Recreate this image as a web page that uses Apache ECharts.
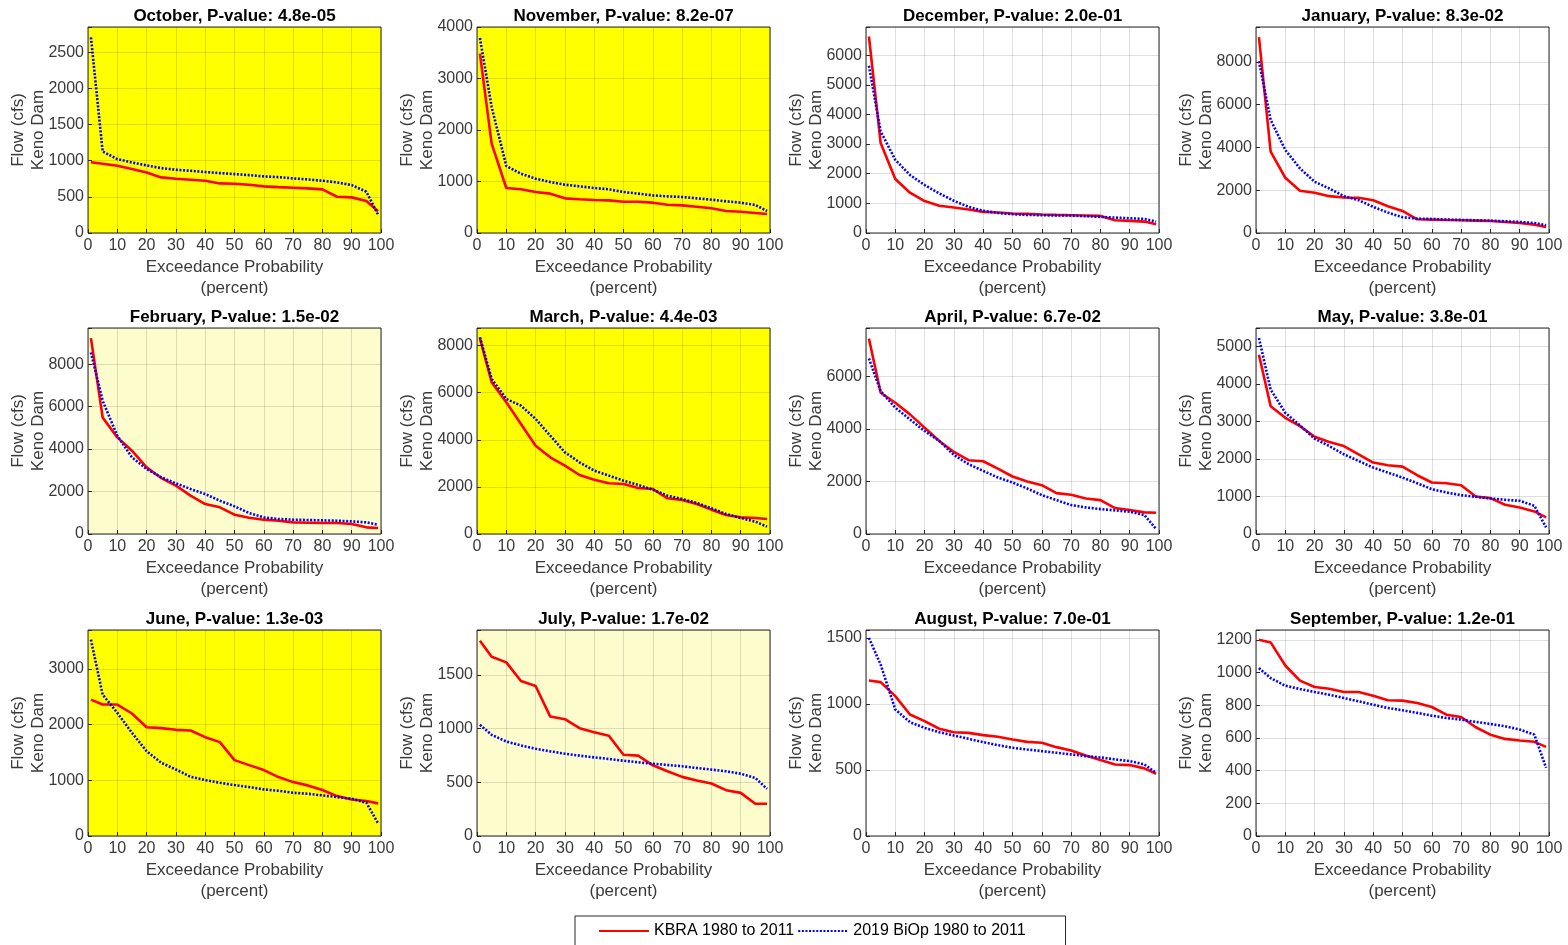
<!DOCTYPE html>
<html>
<head>
<meta charset="utf-8">
<title>Keno Dam flow exceedance by month</title>
<script src="https://cdn.jsdelivr.net/npm/echarts@6/dist/echarts.min.js"></script>
<style>
  html, body { margin: 0; padding: 0; background: #fff; }
  #chart { width: 1568px; height: 945px; }
</style>
</head>
<body>
<div id="chart"></div>
<script>
// exceedance probability (percent), same for every month
const probability = [1, 5, 10, 15, 20, 25, 30, 35, 40, 45, 50, 55, 60, 65, 70, 75, 80, 85, 90, 95, 99];

const months = ['October', 'November', 'December', 'January', 'February', 'March',
  'April', 'May', 'June', 'July', 'August', 'September'];
const pValues = ['4.8e-05', '8.2e-07', '2.0e-01', '8.3e-02', '1.5e-02', '4.4e-03',
  '6.7e-02', '3.8e-01', '1.3e-03', '1.7e-02', '7.0e-01', '1.2e-01'];

// y axis top and tick step per month
const yMax = [2850, 4000, 6950, 9630, 9700, 8750, 7830, 5490, 3700, 1920, 1560, 1260];
const yStep = [500, 1000, 1000, 2000, 2000, 2000, 2000, 1000, 1000, 500, 500, 200];

// flow (cfs) - KBRA 1980 to 2011
const kbraOct = [980, 958, 930, 884, 838, 769, 750, 737, 723, 686, 681, 668, 645, 635, 626, 617, 603, 502, 493, 442, 300];
const kbraNov = [3482, 1735, 874, 848, 796, 764, 673, 654, 641, 634, 608, 608, 589, 550, 537, 511, 479, 427, 414, 388, 369];
const kbraDec = [6630, 3035, 1820, 1359, 1076, 917, 860, 792, 713, 690, 657, 645, 623, 611, 600, 589, 577, 430, 408, 385, 294];
const kbraJan = [9158, 3804, 2583, 1972, 1879, 1722, 1659, 1644, 1534, 1252, 1033, 642, 626, 611, 595, 579, 564, 517, 470, 391, 282];
const kbraFeb = [9224, 5490, 4549, 3922, 3137, 2635, 2275, 1804, 1412, 1255, 910, 769, 675, 627, 549, 533, 518, 518, 471, 314, 282];
const kbraMar = [8312, 6444, 5594, 4674, 3752, 3257, 2903, 2507, 2308, 2153, 2124, 1954, 1912, 1516, 1445, 1275, 1034, 807, 708, 680, 637];
const kbraApr = [7427, 5368, 4989, 4547, 4042, 3537, 3120, 2804, 2766, 2488, 2185, 1996, 1857, 1554, 1491, 1352, 1288, 985, 909, 821, 808];
const kbraMay = [4779, 3407, 3097, 2876, 2593, 2451, 2345, 2124, 1903, 1832, 1796, 1566, 1372, 1354, 1301, 1000, 956, 779, 708, 602, 442];
const kbraJun = [2450, 2361, 2361, 2200, 1954, 1937, 1907, 1895, 1775, 1686, 1363, 1273, 1184, 1058, 968, 909, 825, 717, 657, 628, 586];
const kbraJul = [1819, 1670, 1618, 1444, 1398, 1113, 1089, 1005, 968, 934, 758, 749, 659, 603, 551, 517, 489, 427, 402, 300, 300];
const kbraAug = [1177, 1165, 1059, 920, 870, 812, 786, 781, 764, 751, 731, 713, 706, 673, 648, 610, 575, 542, 537, 512, 471];
const kbraSep = [1200, 1184, 1043, 950, 911, 901, 881, 881, 858, 830, 828, 814, 789, 742, 728, 665, 620, 594, 584, 576, 545];

// flow (cfs) - 2019 BiOp 1980 to 2011
const biopOct = [2707, 1128, 1022, 976, 935, 898, 875, 861, 843, 829, 815, 801, 783, 773, 755, 741, 723, 700, 663, 571, 253];
const biopNov = [3786, 2450, 1300, 1152, 1055, 990, 938, 906, 874, 848, 796, 764, 731, 712, 699, 673, 647, 615, 589, 544, 427];
const biopDec = [5640, 3430, 2468, 1958, 1619, 1336, 1087, 883, 747, 679, 634, 611, 600, 589, 589, 566, 543, 521, 498, 475, 385];
const biopJan = [8031, 5291, 3882, 3021, 2395, 2082, 1722, 1534, 1221, 955, 736, 673, 657, 626, 611, 595, 579, 548, 517, 470, 360];
const biopFeb = [8549, 6275, 4627, 3608, 3059, 2667, 2384, 2118, 1882, 1569, 1302, 988, 784, 706, 675, 659, 643, 627, 596, 549, 439];
const biopMar = [8357, 6586, 5736, 5453, 4887, 4178, 3470, 3045, 2691, 2479, 2266, 2082, 1884, 1629, 1487, 1317, 1091, 850, 680, 524, 312];
const biopApr = [6669, 5432, 4800, 4358, 3916, 3537, 3006, 2653, 2400, 2147, 1958, 1731, 1478, 1288, 1099, 1011, 947, 897, 846, 720, 189];
const biopMay = [5221, 3850, 3230, 2894, 2540, 2345, 2124, 1947, 1770, 1637, 1504, 1354, 1195, 1106, 1035, 991, 947, 912, 885, 752, 177];
const biopJun = [3527, 2540, 2212, 1853, 1524, 1315, 1195, 1064, 1004, 956, 915, 879, 837, 813, 777, 759, 729, 699, 669, 598, 227];
const biopJul = [1036, 943, 881, 844, 813, 789, 767, 749, 733, 718, 702, 687, 674, 662, 650, 634, 619, 603, 581, 541, 439];
const biopAug = [1500, 1298, 958, 862, 819, 786, 761, 736, 711, 688, 668, 655, 643, 630, 618, 605, 595, 580, 567, 542, 479];
const biopSep = [1027, 966, 919, 899, 881, 864, 844, 824, 803, 783, 769, 753, 736, 722, 712, 698, 685, 671, 651, 620, 417];

const kbraAll = [kbraOct, kbraNov, kbraDec, kbraJan, kbraFeb, kbraMar, kbraApr, kbraMay, kbraJun, kbraJul, kbraAug, kbraSep];
const biopAll = [biopOct, biopNov, biopDec, biopJan, biopFeb, biopMar, biopApr, biopMay, biopJun, biopJul, biopAug, biopSep];

const kbraName = 'KBRA 1980 to 2011';
const biopName = '2019 BiOp 1980 to 2011';

// panel layout
const colLeft = [88, 477, 866, 1256];
const rowTop = [27, 328, 630];
const plotW = 293;
const plotH = 206;

const fontFamily = '"Liberation Sans", Arial, Helvetica, sans-serif';
const axisColor = '#262626';
const labelColor = '#3a3a3a';
const gridLineColor = 'rgba(38,38,38,0.15)';

function toPoints(values) {
  return probability.map((p, k) => [p, values[k]]);
}

const grids = [];
const titles = [];
const xAxes = [];
const yAxes = [];
const series = [];

months.forEach((month, i) => {
  const left = colLeft[i % 4];
  const top = rowTop[Math.floor(i / 4)];
  const p = parseFloat(pValues[i]);
  // significance shading: p < 0.01 bright yellow, p < 0.05 pale yellow
  const bg = p < 0.01 ? '#ffff00' : (p < 0.05 ? '#fcfccc' : '#ffffff');
  const step = yStep[i];

  grids.push({
    left: left, top: top, width: plotW, height: plotH,
    show: true, backgroundColor: bg,
    borderColor: axisColor, borderWidth: 1,
    containLabel: false, outerBoundsMode: 'none'
  });

  titles.push({
    text: month + ', P-value: ' + pValues[i],
    left: left + plotW / 2,
    top: top - 20,
    textAlign: 'center',
    padding: 0,
    textStyle: { fontFamily: fontFamily, fontSize: 17, fontWeight: 'bold', color: '#000', lineHeight: 18 }
  });

  xAxes.push({
    gridIndex: i, type: 'value', min: 0, max: 100, interval: 10,
    name: 'Exceedance Probability\n(percent)',
    nameLocation: 'middle', nameGap: 24,
    nameTextStyle: { fontFamily: fontFamily, fontSize: 17, color: labelColor, lineHeight: 21 },
    axisLine: { show: false },
    axisTick: { show: true, inside: true, length: 4, lineStyle: { color: axisColor } },
    axisLabel: { fontFamily: fontFamily, fontSize: 16, color: labelColor, margin: 5 },
    splitLine: { show: true, lineStyle: { color: gridLineColor, width: 1 } }
  });

  yAxes.push({
    gridIndex: i, type: 'value', min: 0, max: yMax[i], interval: step,
    name: 'Flow (cfs)\nKeno Dam',
    nameLocation: 'middle', nameRotate: 90, nameGap: 40,
    nameMoveOverlap: false,
    nameTextStyle: { fontFamily: fontFamily, fontSize: 17, color: labelColor, lineHeight: 20 },
    axisLine: { show: false },
    axisTick: { show: true, inside: true, length: 4, lineStyle: { color: axisColor } },
    axisLabel: {
      fontFamily: fontFamily, fontSize: 16, color: labelColor, margin: 4,
      formatter: function (v) { return v % step === 0 ? String(v) : ''; }
    },
    splitLine: { show: true, lineStyle: { color: gridLineColor, width: 1 } }
  });

  series.push({
    name: kbraName, type: 'line', xAxisIndex: i, yAxisIndex: i,
    data: toPoints(kbraAll[i]),
    symbol: 'none', showSymbol: false,
    itemStyle: { color: '#ff0000' },
    lineStyle: { color: '#ff0000', width: 2.6 }
  });
  series.push({
    name: biopName, type: 'line', xAxisIndex: i, yAxisIndex: i,
    data: toPoints(biopAll[i]),
    symbol: 'none', showSymbol: false,
    itemStyle: { color: '#0000ff' },
    lineStyle: { color: '#0000ff', width: 2.6, type: [2, 1.6] }
  });
});

const chart = echarts.init(document.getElementById('chart'), null, { renderer: 'canvas' });
chart.setOption({
  animation: false,
  backgroundColor: '#ffffff',
  title: titles,
  grid: grids,
  xAxis: xAxes,
  yAxis: yAxes,
  legend: {
    data: [kbraName, biopName],
    left: 575, top: 916,
    padding: [7, 40, 7, 23],
    itemWidth: 50, itemHeight: 14, itemGap: 3,
    borderColor: axisColor, borderWidth: 1,
    selectedMode: false,
    // line samples only, no marker dot
    itemStyle: { color: 'rgba(0,0,0,0)', borderColor: 'rgba(0,0,0,0)', borderWidth: 0, opacity: 0 },
    textStyle: { fontFamily: fontFamily, fontSize: 16, color: '#000' }
  },
  series: series
});
</script>
</body>
</html>
